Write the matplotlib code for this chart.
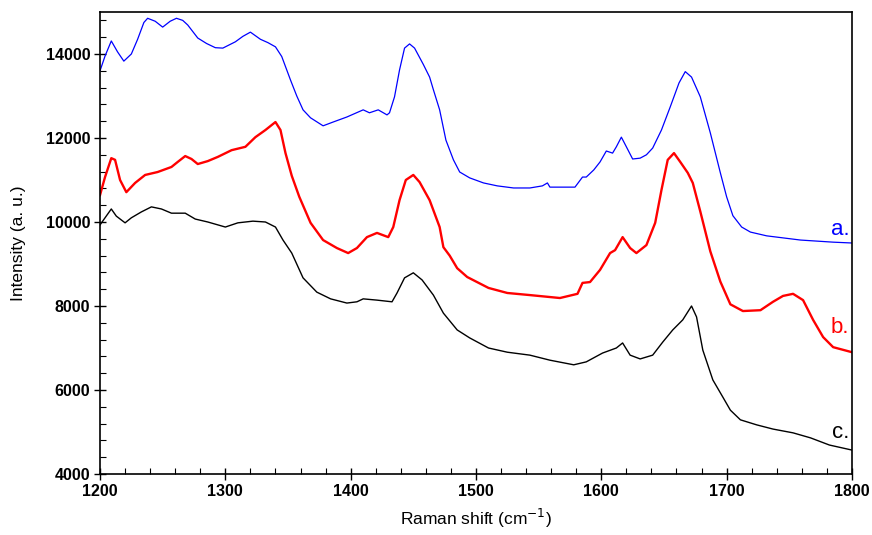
import matplotlib
matplotlib.use('Agg')
import matplotlib.pyplot as plt
from matplotlib.ticker import MultipleLocator

plt.rcParams['font.family'] = ['Liberation Sans', 'DejaVu Sans']

# spectrum a. (blue)
shift_a = [1200, 1204, 1209, 1214, 1219, 1225, 1230, 1235, 1238, 1244, 1250, 1256,
           1261, 1266, 1270, 1278, 1285, 1292, 1298, 1308, 1314, 1320, 1328, 1334,
           1340, 1345, 1352, 1357, 1362, 1368, 1378, 1386, 1397, 1410, 1415, 1422,
           1429, 1431, 1435, 1439, 1443, 1447, 1451, 1458, 1463, 1466, 1471, 1476, 1482,
           1487, 1495, 1506, 1517, 1530, 1543, 1553, 1557, 1559, 1570, 1579, 1585,
           1588, 1594, 1599, 1604, 1609, 1612, 1616, 1620, 1625, 1631, 1636, 1641,
           1648, 1655, 1662, 1667, 1672, 1679, 1687, 1695, 1700, 1705, 1712, 1719,
           1732, 1759, 1785, 1800]
int_a = [13600, 13950, 14310, 14050, 13830, 14000, 14350, 14750, 14850, 14780, 14640, 14780,
         14850, 14800, 14690, 14380, 14250, 14150, 14140, 14290, 14420, 14520, 14350, 14270,
         14170, 13940, 13380, 13000, 12670, 12480, 12290, 12380, 12500, 12670, 12600, 12670,
         12550, 12600, 12980, 13620, 14140, 14240, 14140, 13750, 13450, 13150, 12670, 11950, 11480,
         11190, 11050, 10930, 10860, 10810, 10810, 10860, 10930, 10830, 10830, 10830, 11070,
         11070, 11240, 11430, 11690, 11640, 11790, 12020, 11790, 11500, 11520, 11600, 11760,
         12190, 12740, 13310, 13580, 13450, 12980, 12120, 11170, 10600, 10150, 9880, 9760,
         9670, 9570, 9520, 9500]

# spectrum b. (red)
shift_b = [1200, 1204, 1209, 1212, 1216, 1221, 1228, 1236, 1246, 1257, 1262, 1268,
           1273, 1278, 1286, 1294, 1305, 1316, 1324, 1332, 1340, 1344, 1348, 1353,
           1359, 1368, 1378, 1389, 1398, 1405, 1413, 1421, 1430, 1434, 1439, 1444,
           1450, 1455, 1463, 1471, 1474, 1479, 1485, 1493, 1510, 1525, 1543, 1567,
           1581, 1585, 1591, 1599, 1607, 1611, 1617, 1623, 1628, 1636, 1643, 1648,
           1653, 1658, 1663, 1669, 1673, 1679, 1687, 1695, 1703, 1713, 1727, 1737,
           1745, 1753, 1761, 1769, 1777, 1785, 1800]
int_b = [10640, 11070, 11520, 11480, 11000, 10710, 10930, 11120, 11190, 11310, 11430, 11570,
         11500, 11380, 11450, 11550, 11710, 11790, 12020, 12190, 12380, 12190, 11640, 11100,
         10600, 9980, 9570, 9380, 9260, 9380, 9640, 9740, 9640, 9880, 10520, 11000,
         11120, 10950, 10520, 9880, 9400, 9200, 8900, 8690, 8430, 8310, 8260, 8190,
         8290, 8550, 8570, 8860, 9260, 9330, 9640, 9380, 9260, 9450, 9980, 10760,
         11480, 11640, 11430, 11170, 10930, 10250, 9300, 8580, 8040, 7880, 7900, 8100,
         8240, 8290, 8140, 7670, 7260, 7020, 6900]

# spectrum c. (black)
shift_c = [1200, 1204, 1209, 1213, 1220, 1225, 1233, 1241, 1249, 1257, 1268, 1276,
           1286, 1300, 1310, 1322, 1332, 1340, 1346, 1353, 1362, 1373, 1384, 1397,
           1405, 1410, 1421, 1433, 1437, 1443, 1450, 1457, 1466, 1474, 1485, 1495,
           1510, 1525, 1543, 1559, 1578, 1588, 1601, 1612, 1617, 1623, 1631, 1641,
           1649, 1657, 1665, 1672, 1676, 1681, 1689, 1697, 1703, 1711, 1724, 1737,
           1753, 1767, 1782, 1800]
int_c = [9930, 10100, 10310, 10140, 9980, 10100, 10240, 10360, 10310, 10210, 10210, 10070,
         10000, 9880, 9980, 10020, 10000, 9880, 9570, 9260, 8670, 8330, 8170, 8070,
         8100, 8170, 8140, 8100, 8310, 8670, 8790, 8620, 8260, 7830, 7430, 7240,
         7000, 6900, 6830, 6710, 6600, 6670, 6880, 7000, 7120, 6830, 6740, 6830,
         7140, 7430, 7670, 8000, 7740, 6950, 6240, 5830, 5520, 5290, 5170, 5070,
         4980, 4860, 4690, 4570]

labels = ['a.', 'b.', 'c.']
label_y = [9810, 7480, 5000]

fig = plt.figure(figsize=(8.72, 5.35), dpi=100)
ax = fig.add_axes([0.1147, 0.114, 0.8623, 0.8636])

ax.plot(shift_a, int_a, color='#0000ff', linewidth=0.9)
ax.plot(shift_b, int_b, color='#ff0000', linewidth=1.7)
ax.plot(shift_c, int_c, color='black', linewidth=1.0)

for lab, yy, col in zip(labels, label_y, ['#0000ff', '#ff0000', 'black']):
    ax.text(1798, yy, lab, color=col, fontsize=16, ha='right', va='center')

ax.set_xlim(1200, 1800)
ax.set_ylim(4000, 15000)
ax.xaxis.set_major_locator(MultipleLocator(100))
ax.xaxis.set_minor_locator(MultipleLocator(20))
ax.yaxis.set_major_locator(MultipleLocator(2000))
ax.yaxis.set_minor_locator(MultipleLocator(400))
ax.set_yticks(range(4000, 14001, 2000))

ax.tick_params(which='major', direction='inout', length=8, width=1.0, labelsize=11.5, pad=3)
ax.tick_params(which='minor', direction='in', length=4, width=0.8)
for t in ax.get_xticklabels() + ax.get_yticklabels():
    t.set_fontweight('bold')

for sp in ax.spines.values():
    sp.set_linewidth(1.2)

ax.set_xlabel('Raman shift (cm$^{-1}$)', fontsize=12.5, labelpad=6)
ax.set_ylabel('Intensity (a. u.)', fontsize=12.5, labelpad=14)

fig.savefig('out.png', dpi=100)
